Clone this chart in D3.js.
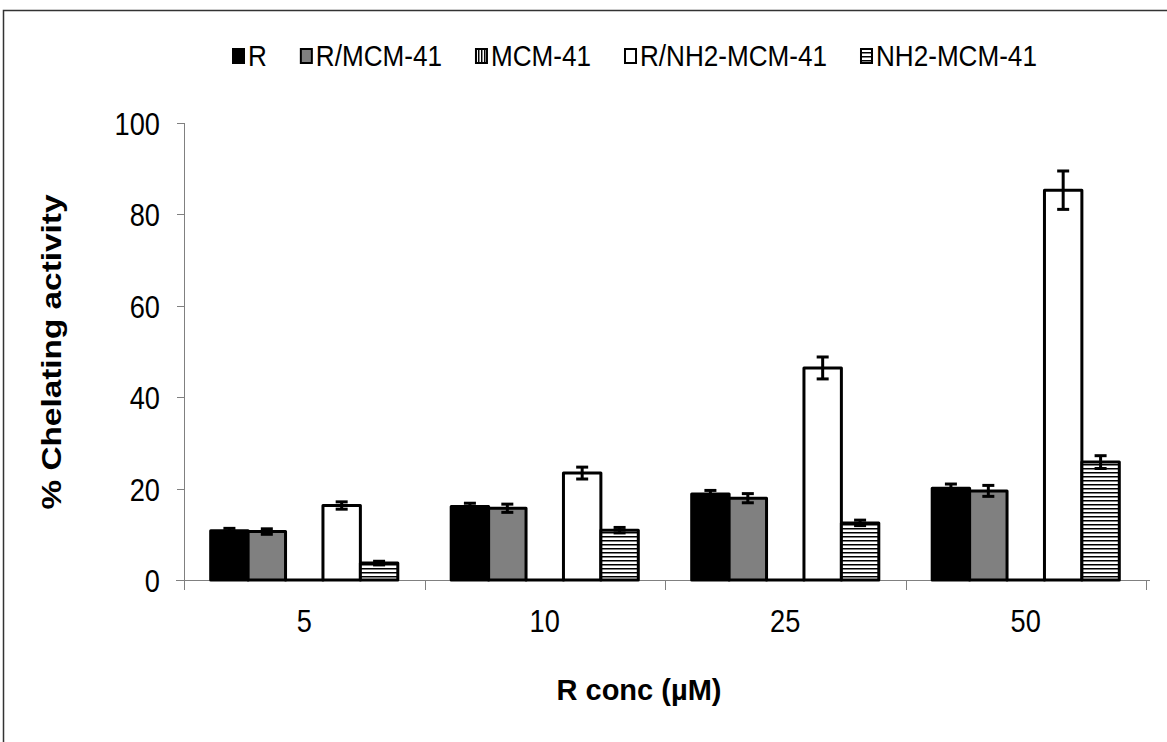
<!DOCTYPE html>
<meta charset="utf-8">
<style>
    body { margin: 0; background: #fff; }
    svg { display: block; font-family: "Liberation Sans", Arial, sans-serif; }
    .axis line, .axis path { stroke: #808080; stroke-width: 1px; shape-rendering: crispEdges; }
</style>
<svg width="1167" height="742"></svg>
<script src="https://d3js.org/d3.v7.min.js"></script>
<script>

    // data
    var concs = ["5", "10", "25", "50"];
    var seriesNames = ["R", "R/MCM-41", "MCM-41", "R/NH2-MCM-41", "NH2-MCM-41"];
    var valR = [10.8, 16.1, 18.8, 20.1];
    var errR = [0.5, 0.7, 0.8, 0.9];
    var valRMCM = [10.6, 15.7, 17.9, 19.5];
    var errRMCM = [0.6, 0.9, 1.0, 1.2];
    var valMCM = [0, 0, 0, 0];
    var errMCM = [0, 0, 0, 0];
    var valRNH2 = [16.3, 23.4, 46.4, 85.3];
    var errRNH2 = [0.8, 1.3, 2.4, 4.2];
    var valNH2 = [3.7, 10.9, 12.5, 25.8];
    var errNH2 = [0.4, 0.6, 0.6, 1.4];
    var yTicks = [0, 20, 40, 60, 80, 100];

    var values = [valR, valRMCM, valMCM, valRNH2, valNH2];
    var errors = [errR, errRMCM, errMCM, errRNH2, errNH2];
    var fills = ["#000", "#808080", "url(#vstripe)", "#fff", "url(#hstripe)"];

    var svg = d3.select("svg");

    // outer frame (only top and left edges are visible)
    svg.append("path")
        .attr("d", "M3.5,742V10.5H1167")
        .attr("fill", "none")
        .attr("stroke", "#333")
        .attr("stroke-width", 1.5);

    var defs = svg.append("defs");
    var vp = defs.append("pattern")
        .attr("id", "vstripe")
        .attr("patternUnits", "userSpaceOnUse")
        .attr("width", 3).attr("height", 3);
    vp.append("rect").attr("width", 3).attr("height", 3).attr("fill", "#fff");
    vp.append("rect").attr("width", 1.5).attr("height", 3).attr("fill", "#000");
    var hp = defs.append("pattern")
        .attr("id", "hstripe")
        .attr("patternUnits", "userSpaceOnUse")
        .attr("width", 4).attr("height", 4);
    hp.append("rect").attr("width", 4).attr("height", 4).attr("fill", "#fff");
    hp.append("rect").attr("width", 4).attr("height", 1.5).attr("fill", "#000");

    var plotLeft = 184, plotRight = 1146, plotTop = 123, plotBottom = 580;
    var pad = 0.222;

    var x0 = d3.scaleBand()
        .domain(concs)
        .range([plotLeft, plotRight])
        .paddingInner(pad)
        .paddingOuter(pad / 2);

    var x1 = d3.scaleBand()
        .domain(seriesNames)
        .range([0, x0.bandwidth()]);

    var y = d3.scaleLinear()
        .domain([0, 100])
        .range([plotBottom, plotTop]);

    // y axis
    var yAxis = svg.append("g")
        .attr("class", "axis")
        .attr("transform", "translate(" + plotLeft + ",0)")
        .call(d3.axisLeft(y).tickValues(yTicks).tickSize(7).tickSizeOuter(0));
    yAxis.select(".domain").attr("d", "M0.5," + plotTop + "V" + (plotBottom + 10));
    yAxis.selectAll("text")
        .attr("fill", "#000")
        .attr("font-size", 32)
        .attr("font-family", "Liberation Sans, Arial, sans-serif")
        .attr("x", -24 / 0.85)
        .attr("dy", "0.36em")
        .attr("transform", "scale(0.85,1)");

    // x axis: line plus ticks at group boundaries
    var step = x0.step();
    var bounds = concs.map(function (c) { return x0(c) - step * pad / 2; });
    bounds.push(bounds[bounds.length - 1] + step);

    var xAxis = svg.append("g").attr("class", "axis");
    xAxis.append("line")
        .attr("x1", plotLeft - 8).attr("x2", plotRight + 4)
        .attr("y1", plotBottom + 0.5).attr("y2", plotBottom + 0.5);
    xAxis.selectAll(".xt")
        .data(bounds)
        .enter().append("line")
        .attr("class", "xt")
        .attr("x1", function (d) { return Math.round(d) + 0.5; })
        .attr("x2", function (d) { return Math.round(d) + 0.5; })
        .attr("y1", plotBottom)
        .attr("y2", plotBottom + 10);

    svg.append("g").selectAll("text")
        .data(concs)
        .enter().append("text")
        .attr("transform", function (d) {
            return "translate(" + (x0(d) + x0.bandwidth() / 2) + "," + (plotBottom + 40) + ") scale(0.85,1)";
        })
        .attr("text-anchor", "middle")
        .attr("dy", "0.36em")
        .attr("font-size", 32)
        .text(function (d) { return d; });

    // bars
    var barData = [];
    concs.forEach(function (c, i) {
        seriesNames.forEach(function (s, j) {
            barData.push({ c: c, s: s, j: j, v: values[j][i], e: errors[j][i] });
        });
    });

    // zero bars still get their outline (a rect of height 0 would not draw)
    svg.append("g").selectAll("rect")
        .data(barData)
        .enter().append("rect")
        .attr("x", function (d) { return x0(d.c) + x1(d.s); })
        .attr("y", function (d) { return Math.min(y(d.v), y(0) - 0.1); })
        .attr("width", x1.bandwidth())
        .attr("height", function (d) { return Math.max(y(0) - y(d.v), 0.1); })
        .attr("fill", function (d) { return fills[d.j]; })
        .attr("stroke", "#000")
        .attr("stroke-width", 3)
        .attr("stroke-linejoin", "round");

    // error bars
    var eb = svg.append("g")
        .attr("stroke", "#000")
        .attr("stroke-width", 3)
        .selectAll("g")
        .data(barData.filter(function (d) { return d.e > 0; }))
        .enter().append("g")
        .attr("transform", function (d) {
            return "translate(" + (x0(d.c) + x1(d.s) + x1.bandwidth() / 2) + ",0)";
        });
    eb.append("line")
        .attr("y1", function (d) { return y(d.v + d.e); })
        .attr("y2", function (d) { return y(d.v - d.e); });
    eb.append("line")
        .attr("x1", -6).attr("x2", 6)
        .attr("y1", function (d) { return y(d.v + d.e); })
        .attr("y2", function (d) { return y(d.v + d.e); });
    eb.append("line")
        .attr("x1", -6).attr("x2", 6)
        .attr("y1", function (d) { return y(d.v - d.e); })
        .attr("y2", function (d) { return y(d.v - d.e); });

    // legend
    var legend = svg.append("g").attr("transform", "translate(232,56)");
    var lx = 0;
    var lsx = 0.9;
    seriesNames.forEach(function (s, j) {
        var item = legend.append("g").attr("transform", "translate(" + lx + ",0)");
        item.append("rect")
            .attr("x", 1).attr("y", -7)
            .attr("width", 11).attr("height", 14)
            .attr("fill", fills[j])
            .attr("stroke", "#000")
            .attr("stroke-width", 2);
        var t = item.append("text")
            .attr("transform", "translate(16,0) scale(" + lsx + ",1)")
            .attr("dy", "0.36em")
            .attr("font-size", 29)
            .text(s);
        lx += 16 + t.node().getComputedTextLength() * lsx + 33;
    });

    // axis titles
    svg.append("text")
        .attr("transform", "translate(61,352) rotate(-90)")
        .attr("text-anchor", "middle")
        .attr("font-weight", "bold")
        .attr("font-size", 27)
        .attr("textLength", 315)
        .attr("lengthAdjust", "spacingAndGlyphs")
        .text("% Chelating  activity");

    svg.append("text")
        .attr("x", 639)
        .attr("y", 690)
        .attr("text-anchor", "middle")
        .attr("dy", "0.36em")
        .attr("font-weight", "bold")
        .attr("font-size", 29)
        .text("R conc (\u00b5M)");

</script>
